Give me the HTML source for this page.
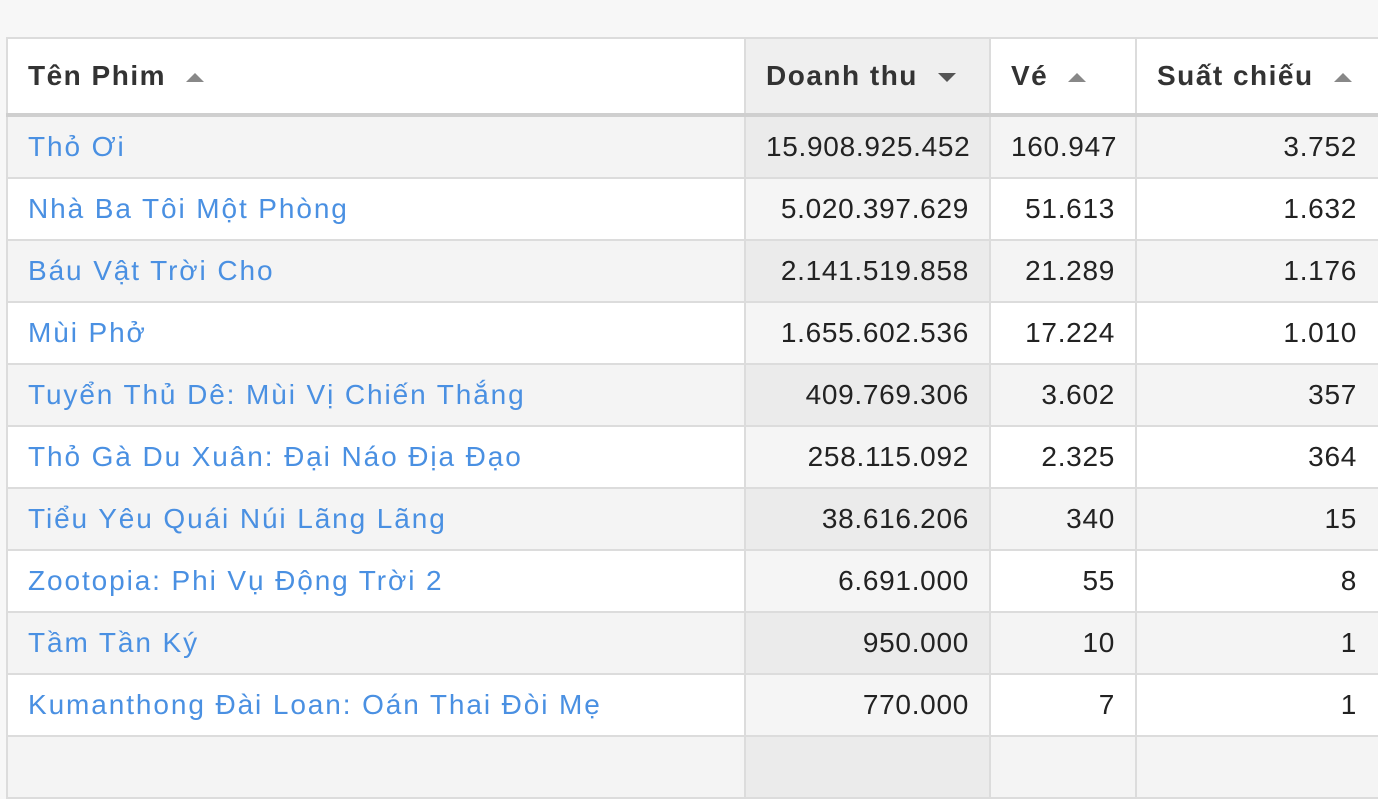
<!DOCTYPE html>
<html><head><meta charset="utf-8"><style>
html,body{margin:0;padding:0;background:#f7f7f7;width:1378px;height:742px;overflow:hidden;}
table{position:absolute;left:6px;top:37px;border-collapse:collapse;table-layout:fixed;width:1380px;background:#fff;font-family:"Liberation Sans",sans-serif;font-size:28px;color:#222;}
td,th{border:2px solid #dcdcdc;height:60px;padding:0 20px;white-space:nowrap;overflow:hidden;}
th{height:74px;text-align:left;font-weight:bold;color:#333;border-bottom:4px solid #cfcfcf;letter-spacing:1.5px;}
td{text-align:right;letter-spacing:0.7px;padding-right:20px;}
td:first-child{text-align:left;color:#4a90e2;letter-spacing:1.9px;}
td.l{padding-right:29px;}
tbody tr:nth-child(odd) td{background:#f4f4f4;}
tbody tr:nth-child(odd) td.s{background:#ebebeb;}
tbody tr:nth-child(even) td.s{background:#f5f5f5;}
th.s{background:#efefef;}
.up,.dn{display:inline-block;width:0;height:0;border-left:9px solid transparent;border-right:9px solid transparent;margin-left:20px;vertical-align:middle;}
.up{border-bottom:9px solid #888;}
.dn{border-top:9px solid #555;}
</style></head><body>
<table>
<colgroup><col style="width:738px"><col style="width:245px"><col style="width:146px"><col style="width:251px"></colgroup>
<thead><tr><th>Tên Phim<span class="up"></span></th><th class="s">Doanh thu<span class="dn"></span></th><th>Vé<span class="up"></span></th><th>Suất chiếu<span class="up"></span></th></tr></thead>
<tbody>
<tr><td>Thỏ Ơi</td><td class="s">15.908.925.452</td><td>160.947</td><td class="l">3.752</td></tr>
<tr><td>Nhà Ba Tôi Một Phòng</td><td class="s">5.020.397.629</td><td>51.613</td><td class="l">1.632</td></tr>
<tr><td>Báu Vật Trời Cho</td><td class="s">2.141.519.858</td><td>21.289</td><td class="l">1.176</td></tr>
<tr><td>Mùi Phở</td><td class="s">1.655.602.536</td><td>17.224</td><td class="l">1.010</td></tr>
<tr><td>Tuyển Thủ Dê: Mùi Vị Chiến Thắng</td><td class="s">409.769.306</td><td>3.602</td><td class="l">357</td></tr>
<tr><td>Thỏ Gà Du Xuân: Đại Náo Địa Đạo</td><td class="s">258.115.092</td><td>2.325</td><td class="l">364</td></tr>
<tr><td>Tiểu Yêu Quái Núi Lãng Lãng</td><td class="s">38.616.206</td><td>340</td><td class="l">15</td></tr>
<tr><td>Zootopia: Phi Vụ Động Trời 2</td><td class="s">6.691.000</td><td>55</td><td class="l">8</td></tr>
<tr><td>Tầm Tần Ký</td><td class="s">950.000</td><td>10</td><td class="l">1</td></tr>
<tr><td>Kumanthong Đài Loan: Oán Thai Đòi Mẹ</td><td class="s">770.000</td><td>7</td><td class="l">1</td></tr>
<tr><td>&nbsp;</td><td class="s"></td><td></td><td></td></tr>
</tbody></table>
</body></html>
